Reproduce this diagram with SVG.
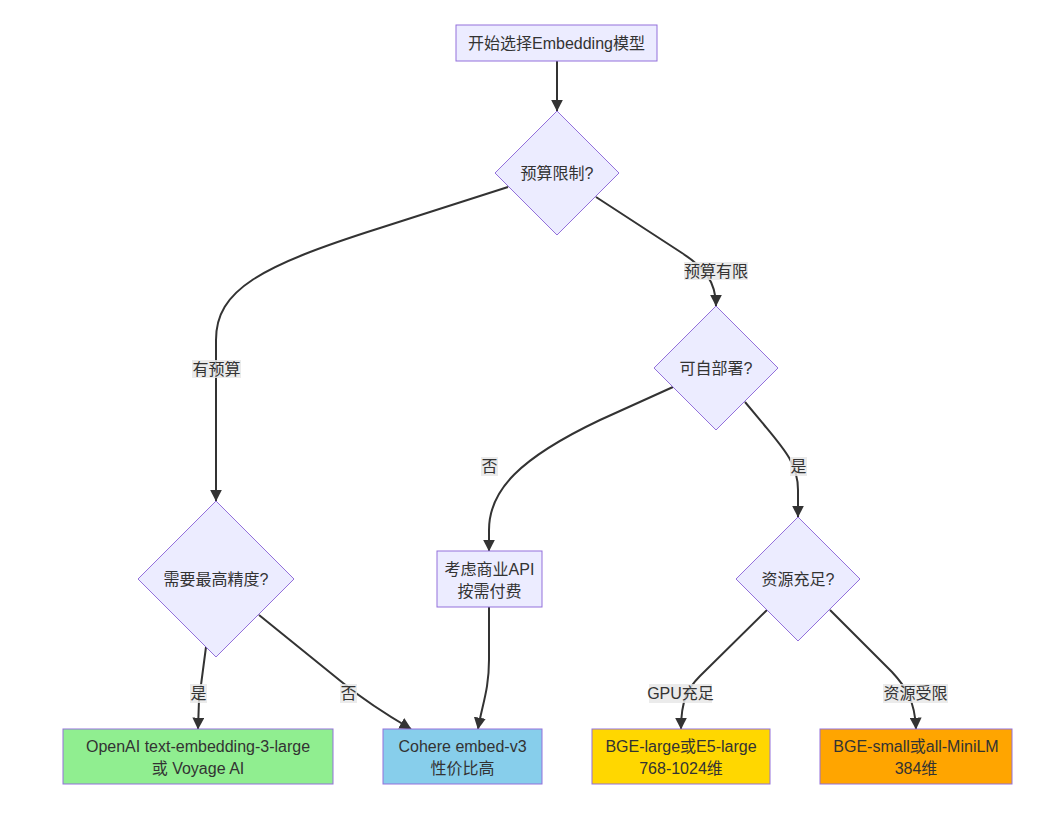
<svg xmlns="http://www.w3.org/2000/svg" width="1053" height="815" viewBox="0 0 1053 815">
<style>
text{font-family:"Liberation Sans","Noto Sans CJK SC",sans-serif;font-size:16px;fill:#333;text-anchor:middle;dominant-baseline:central}
.n{fill:#ECECFF;stroke:#9370DB;stroke-width:1}
.r{stroke:#9370DB;stroke-width:1}
.e{fill:none;stroke:#333;stroke-width:2}
.lb{fill:#e8e8e8;opacity:0.85}
</style>
<defs>
<marker id="arr" viewBox="0 0 10 10" refX="9.5" refY="5" markerUnits="userSpaceOnUse" markerWidth="12" markerHeight="12" orient="auto">
<path d="M0,0 L10,5 L0,10 z" fill="#333"/>
</marker>
</defs>
<rect width="1053" height="815" fill="#fff"/>
<g id="edges">
<path class="e" marker-end="url(#arr)" d="M557,61 L557,111"/>
<path class="e" marker-end="url(#arr)" d="M508,187 L380,228 C260,266 216,290 216,340 L216,501"/>
<path class="e" marker-end="url(#arr)" d="M596,197 L682,253 C705,268 716,282 716,306"/>
<path class="e" marker-end="url(#arr)" d="M673,387 L600,420 C520,458 489,490 489,530 L489,551"/>
<path class="e" marker-end="url(#arr)" d="M745,402 L765,426 C785,450 798,465 798,490 L798,517"/>
<path class="e" marker-end="url(#arr)" d="M206,647 L199,700 L198,729"/>
<path class="e" marker-end="url(#arr)" d="M259,615 L343,683 Q370,705 411,729"/>
<path class="e" marker-end="url(#arr)" d="M489,607 L489,660 C489,690 482,705 478,729"/>
<path class="e" marker-end="url(#arr)" d="M767,610 L700,676 C688,688 681,700 681,729"/>
<path class="e" marker-end="url(#arr)" d="M830,610 L892,672 C905,686 915,700 916,729"/>
<g id="edge-labels">
<rect class="lb" x="192" y="360" width="49" height="18"/><text x="216.5" y="369">有预算</text>
<rect class="lb" x="684" y="262" width="64" height="18"/><text x="716" y="271">预算有限</text>
<rect class="lb" x="481" y="457" width="17" height="19"/><text x="489.5" y="466.5">否</text>
<rect class="lb" x="790" y="457" width="17" height="19"/><text x="798.5" y="466.5">是</text>
<rect class="lb" x="190" y="684" width="17" height="19"/><text x="198.5" y="693.5">是</text>
<rect class="lb" x="340" y="684" width="17" height="19"/><text x="348.5" y="693.5">否</text>
<rect class="lb" x="649" y="684" width="63" height="19"/><text x="680.5" y="693.5">GPU充足</text>
<rect class="lb" x="883" y="684" width="65" height="19"/><text x="915.5" y="693.5">资源受限</text>
</g>
</g>
<g id="start"><rect class="n" x="456" y="25" width="201" height="36"/><text x="556.5" y="43">开始选择Embedding模型</text></g>
<g id="budget"><polygon class="n" points="557,111 619,173 557,235 495,173"/><text x="557" y="173">预算限制?</text></g>
<g id="selfhost"><polygon class="n" points="716,306 778,368 716,430 654,368"/><text x="716" y="368">可自部署?</text></g>
<g id="precision"><polygon class="n" points="216,501 294,579 216,657 138,579"/><text x="216" y="579">需要最高精度?</text></g>
<g id="resource"><polygon class="n" points="798,517 860,579 798,641 736,579"/><text x="798" y="579">资源充足?</text></g>
<g id="commercial"><rect class="n" x="437" y="551" width="105" height="56"/><text x="489.5" y="569">考虑商业API</text><text x="489.5" y="591">按需付费</text></g>
<g id="openai"><rect class="r" fill="#90EE90" x="63" y="729" width="270" height="55"/><text x="198" y="746">OpenAI text-embedding-3-large</text><text x="198" y="768">或 Voyage AI</text></g>
<g id="cohere"><rect class="r" fill="#87CEEB" x="383" y="729" width="159" height="55"/><text x="462.5" y="746">Cohere embed-v3</text><text x="462.5" y="768">性价比高</text></g>
<g id="bgelarge"><rect class="r" fill="#FFD700" x="592" y="729" width="178" height="55"/><text x="681" y="746">BGE-large或E5-large</text><text x="681" y="768">768-1024维</text></g>
<g id="bgesmall"><rect class="r" fill="#FFA500" x="820" y="729" width="192" height="55"/><text x="916" y="746">BGE-small或all-MiniLM</text><text x="916" y="768">384维</text></g>
</svg>
